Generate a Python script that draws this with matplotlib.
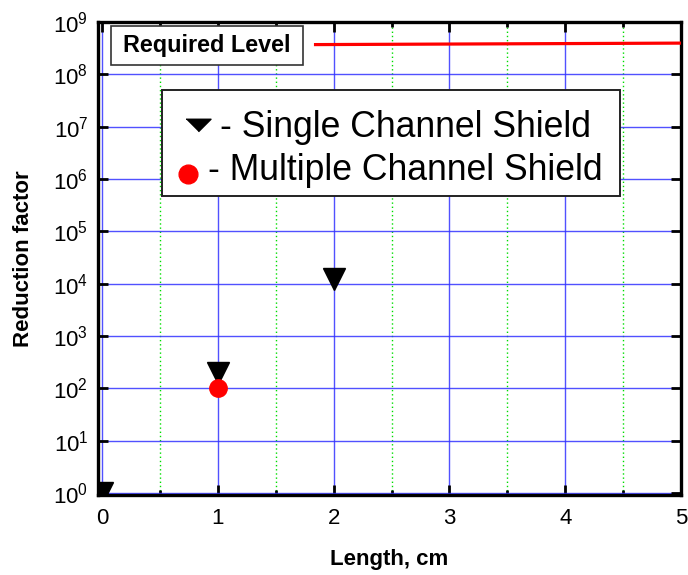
import matplotlib
matplotlib.use("Agg")
import matplotlib.pyplot as plt
from matplotlib.patches import Rectangle
from matplotlib.ticker import FixedLocator, NullLocator, MultipleLocator

plt.rcParams['font.family'] = ['Liberation Sans', 'DejaVu Sans']
plt.rcParams['mathtext.fontset'] = 'custom'
plt.rcParams['mathtext.rm'] = 'Liberation Sans'

# Data
single_x = [0, 1, 2]
single_y = [1.0, 200.0, 1.25e4]
multi_x = [1]
multi_y = [100.0]
required_x = [1.83, 5.0]
required_y = [3.7e8, 3.95e8]
y_ticks = [1e0, 1e1, 1e2, 1e3, 1e4, 1e5, 1e6, 1e7, 1e8, 1e9]

legend_single = "- Single Channel Shield"
legend_multi = "- Multiple Channel Shield"
required_label = "Required Level"
xlabel = "Length, cm"
ylabel = "Reduction factor"

fig = plt.figure(figsize=(6.88, 5.75), dpi=100)
ax = fig.add_axes([98/688, 1-495/575, 583/688, 473/575])

ax.set_yscale('log')
ax.set_xlim(-0.035, 5.0)
ax.set_ylim(0.92, 1e9)

ax.xaxis.set_major_locator(MultipleLocator(1))
ax.xaxis.set_minor_locator(MultipleLocator(0.5))
ax.yaxis.set_major_locator(FixedLocator(y_ticks))
ax.yaxis.set_minor_locator(NullLocator())

ax.grid(True, which='major', color='#3333ff', lw=1.0, alpha=0.85)
ax.grid(True, which='minor', axis='x', color='#00dd00', lw=1.0, ls=(0, (1, 2)))
ax.set_axisbelow(True)

for s in ax.spines.values():
    s.set_linewidth(2.4)

ax.tick_params(which='both', direction='in', top=True, right=True, width=2.0,
               labelsize=16, colors='black')
ax.tick_params(which='major', length=7.5)
ax.tick_params(which='minor', length=3.8)
ax.tick_params(axis='x', pad=9)
ax.tick_params(axis='y', pad=7)

ax.plot(required_x, required_y, color='red', lw=2.3, solid_capstyle='butt', zorder=3)
ax.plot(single_x, single_y, ls='none', marker='v', ms=16, color='black', zorder=4)
ax.plot(multi_x, multi_y, ls='none', marker='o', ms=12.5, color='red', zorder=5)

ax.set_xlabel(xlabel, fontsize=16, fontweight='bold', labelpad=15)
ax.set_ylabel(ylabel, fontsize=16, fontweight='bold', labelpad=14)

# Required level box
ax.add_patch(Rectangle((0.0223, 0.909), 0.3293, 0.0825, transform=ax.transAxes,
                       facecolor='white', edgecolor='#333333', lw=1.2, zorder=6))
ax.text(0.187, 0.950, required_label, transform=ax.transAxes, fontsize=16.8,
        fontweight='bold', ha='center', va='center', zorder=7)

# Legend box
ax.add_patch(Rectangle((0.1098, 0.6321), 0.7856, 0.2241, transform=ax.transAxes,
                       facecolor='white', edgecolor='#222222', lw=1.4, zorder=6))
tri = [(-1, 0.5), (1, 0.5), (0, -0.5)]
ax.plot([0.1715], [0.782], transform=ax.transAxes, ls='none', marker=tri, ms=18,
        color='black', zorder=7, clip_on=False)
ax.plot([0.154], [0.679], transform=ax.transAxes, ls='none', marker='o', ms=13.5,
        color='red', zorder=7, clip_on=False)
ax.text(0.209, 0.757, legend_single, transform=ax.transAxes, fontsize=25.6,
        ha='left', va='baseline', zorder=7)
ax.text(0.189, 0.666, legend_multi, transform=ax.transAxes, fontsize=25.6,
        ha='left', va='baseline', zorder=7)

fig.savefig('out.png', dpi=100)
